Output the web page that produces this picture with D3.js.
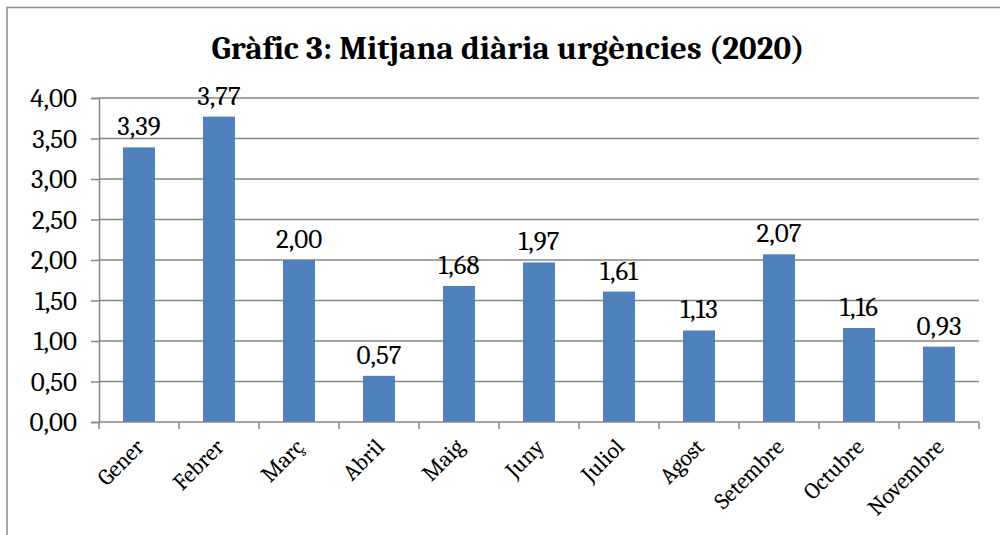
<!DOCTYPE html>
<html>
<head>
<meta charset="utf-8">
<script src="https://cdn.jsdelivr.net/npm/d3@7"></script>
<style>
  body { margin: 0; background: #fff; }
  svg { display: block; }
</style>
</head>
<body>
<svg width="1000" height="535"></svg>
<script>
const months = ["Gener", "Febrer", "Març", "Abril", "Maig", "Juny", "Juliol", "Agost", "Setembre", "Octubre", "Novembre"];
const values = [3.39, 3.77, 2.0, 0.57, 1.68, 1.97, 1.61, 1.13, 2.07, 1.16, 0.93];
const yTicks = [0, 0.5, 1, 1.5, 2, 2.5, 3, 3.5, 4];

const svg = d3.select("svg");
const width = +svg.attr("width");
const height = +svg.attr("height");
const font = "Cambria, Caladea, 'DejaVu Serif', 'Liberation Serif', serif";

const margin = { top: 98, right: 21, bottom: 113, left: 99 };
const innerWidth = width - margin.left - margin.right;
const innerHeight = height - margin.top - margin.bottom;

// outer frame (only top & left visible)
svg.append("path")
  .attr("d", `M7,535 V7.5 H1000`)
  .attr("fill", "none")
  .attr("stroke", "#8c8c8c")
  .attr("stroke-width", 1.5);

svg.append("text")
  .attr("x", 508)
  .attr("y", 59)
  .attr("text-anchor", "middle")
  .style("font-family", font)
  .style("font-weight", "bold")
  .style("font-size", "33px")
  .text("Gràfic 3: Mitjana diària urgències (2020)");

const xScale = d3.scaleBand().domain(months).range([0, innerWidth]).paddingInner(0.6).paddingOuter(0.3);
const yScale = d3.scaleLinear().domain([0, 4]).range([innerHeight, 0]);

const g = svg.append("g").attr("transform", `translate(${margin.left},${margin.top})`);

const fmt = (v) => d3.format(".2f")(v).replace(".", ",");

// gridlines
g.selectAll(".grid")
  .data(yTicks.slice(1))
  .join("line")
  .attr("x1", 0)
  .attr("x2", innerWidth)
  .attr("y1", (d) => yScale(d))
  .attr("y2", (d) => yScale(d))
  .attr("stroke", "#868686")
  .attr("stroke-width", 1.5);

// y axis
const yAxis = d3.axisLeft(yScale).tickValues(yTicks).tickFormat(fmt).tickSize(8).tickPadding(14);
const yAxisG = g.append("g").call(yAxis);
yAxisG.select(".domain").attr("stroke", "#868686").attr("stroke-width", 1.5);
yAxisG.selectAll(".tick line").attr("stroke", "#868686").attr("stroke-width", 1.5);
yAxisG.selectAll(".tick text")
  .style("font-family", font)
  .style("font-size", "27px")
  .attr("fill", "#000");

// bars
g.selectAll("rect")
  .data(values)
  .join("rect")
  .attr("x", (d, i) => xScale(months[i]))
  .attr("y", (d) => yScale(d))
  .attr("width", xScale.bandwidth())
  .attr("height", (d) => innerHeight - yScale(d))
  .attr("fill", "#4f81bd");

// value labels
g.selectAll(".val")
  .data(values)
  .join("text")
  .attr("x", (d, i) => xScale(months[i]) + xScale.bandwidth() / 2)
  .attr("y", (d) => yScale(d) - 12)
  .attr("text-anchor", "middle")
  .style("font-family", font)
  .style("font-size", "27px")
  .text(fmt);

// x axis
const step = xScale.step();
const xAxisG = g.append("g").attr("transform", `translate(0,${innerHeight})`);
xAxisG.append("line")
  .attr("x1", 0).attr("x2", innerWidth)
  .attr("stroke", "#868686").attr("stroke-width", 1.5);
xAxisG.selectAll(".xt")
  .data(d3.range(months.length + 1))
  .join("line")
  .attr("x1", (i) => i * step)
  .attr("x2", (i) => i * step)
  .attr("y1", 0)
  .attr("y2", 7)
  .attr("stroke", "#868686")
  .attr("stroke-width", 1.5);
xAxisG.selectAll(".xl")
  .data(months)
  .join("text")
  .attr("text-anchor", "end")
  .attr("transform", (d) => `translate(${xScale(d) + xScale.bandwidth() / 2 - 5},${15}) rotate(-45)`)
  .attr("dy", "0.7em")
  .style("font-family", font)
  .style("font-size", "23px")
  .text((d) => d);
</script>
</body>
</html>
